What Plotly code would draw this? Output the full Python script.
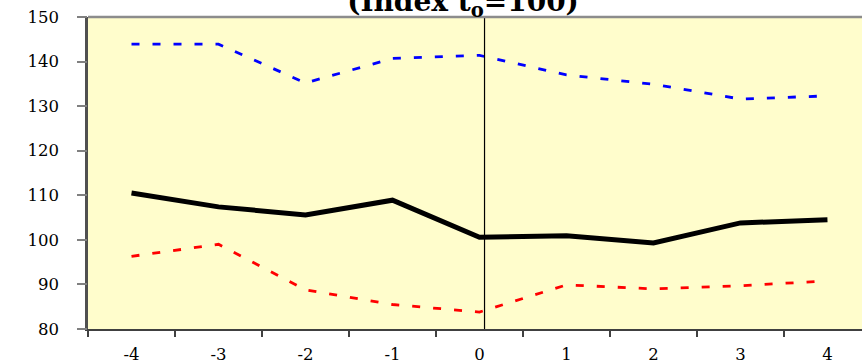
import plotly.graph_objects as go

# Periods relative to t0 and the three index series (t0 = 100)
periods = ["-4", "-3", "-2", "-1", "0", "1", "2", "3", "4"]
upper = [143.9, 143.9, 135.2, 140.7, 141.4, 137.0, 134.9, 131.6, 132.3]
central = [110.5, 107.4, 105.6, 108.9, 100.6, 100.9, 99.3, 103.8, 104.5]
lower = [96.3, 99.0, 88.8, 85.5, 83.8, 89.9, 89.0, 89.7, 90.8]
y_ticks = [80, 90, 100, 110, 120, 130, 140, 150]
y_range = [80, 150]

fig = go.Figure()
fig.add_trace(go.Scatter(x=periods, y=upper, mode="lines",
                         line=dict(color="#0000FF", width=2.8, dash="8px,13px")))
fig.add_trace(go.Scatter(x=periods, y=lower, mode="lines",
                         line=dict(color="#FF0000", width=2.8, dash="8px,13px")))
# central series sits on the overlay axis (same range) so that axis gets drawn
fig.add_trace(go.Scatter(x=periods, y=central, mode="lines", yaxis="y2",
                         line=dict(color="#000000", width=5)))

# vertical marker at t0
fig.add_shape(type="line", xref="x", yref="paper", x0=4.058, x1=4.058, y0=0, y1=1,
              line=dict(color="#000000", width=1.2))
# top frame line of the plot area
fig.add_shape(type="line", xref="paper", yref="paper", x0=0, x1=1, y0=1, y1=1,
              line=dict(color="#8C8C8C", width=2.5))

tick_font = dict(family="DejaVu Serif", size=16.5, color="#000000")

fig.update_layout(
    width=862, height=364,
    margin=dict(l=88, r=0, t=17, b=35),
    paper_bgcolor="#FFFFFF",
    plot_bgcolor="#FFFDCC",
    showlegend=False,
    title=dict(text="<b>(Index t<sub>o</sub>=100)</b>", x=463 / 862, xanchor="center",
               y=0.9959, yanchor="middle", yref="container",
               font=dict(family="DejaVu Serif", size=28, color="#000000")),
    xaxis=dict(type="category", range=[-0.5, 8.397], showgrid=False, zeroline=False,
               showline=True, linecolor="#404040", linewidth=2,
               ticks="outside", tickson="boundaries", ticklen=6, tickcolor="#404040",
               tickwidth=1.5, ticklabelstandoff=9, tickfont=tick_font,
               automargin=False),
    # value axis: line, labels pushed out by long invisible ticks
    yaxis=dict(range=y_range, tickvals=y_ticks, showgrid=False, zeroline=False,
               showline=True, linecolor="#505050", linewidth=2.5,
               ticks="outside", ticklen=23, tickcolor="rgba(0,0,0,0)",
               tickfont=tick_font, automargin=False),
    # overlay axis carrying the short visible tick marks
    yaxis2=dict(range=y_range, tickvals=y_ticks, overlaying="y", anchor="x", side="left",
                showgrid=False, zeroline=False, showline=False, showticklabels=False,
                ticks="outside", ticklen=10, tickcolor="#808080", tickwidth=1.5,
                automargin=False),
)

fig.write_html("out.html")
